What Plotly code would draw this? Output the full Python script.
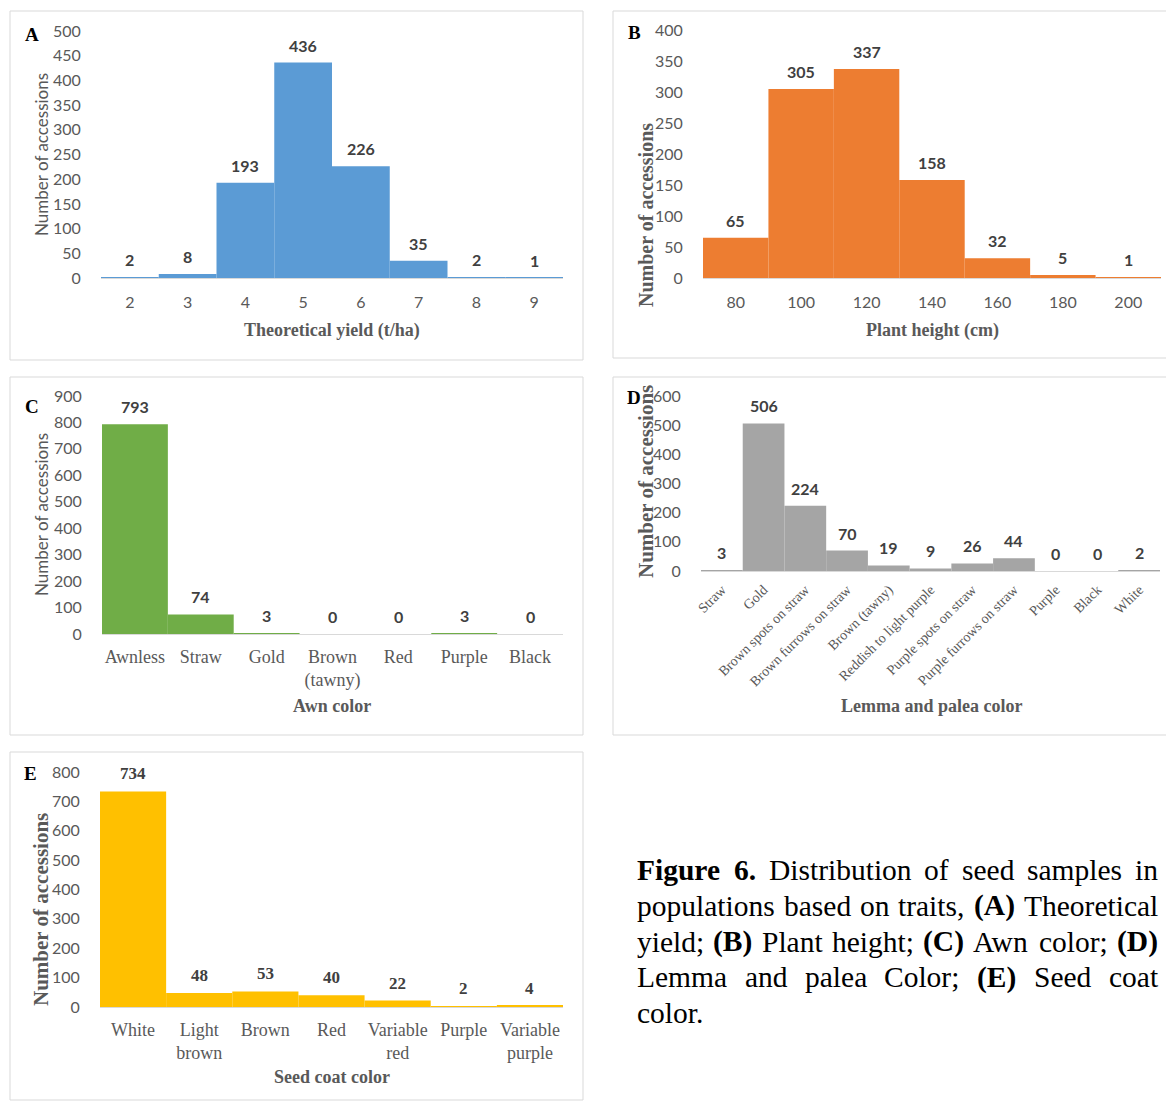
import plotly.graph_objects as go

W, H = 1166, 1102

# ---- data -------------------------------------------------------------
yield_bins = ["2", "3", "4", "5", "6", "7", "8", "9"]
yield_counts = [2, 8, 193, 436, 226, 35, 2, 1]

height_bins = ["80", "100", "120", "140", "160", "180", "200"]
height_counts = [65, 305, 337, 158, 32, 5, 1]

awn_colors = ["Awnless", "Straw", "Gold", "Brown (tawny)", "Red", "Purple", "Black"]
awn_ticks = ["Awnless", "Straw", "Gold", "Brown<br>(tawny)", "Red", "Purple", "Black"]
awn_counts = [793, 74, 3, 0, 0, 3, 0]

lemma_colors = ["Straw", "Gold", "Brown spots on straw", "Brown furrows on straw",
                "Brown (tawny)", "Reddish to light purple", "Purple spots on straw",
                "Purple furrows on straw", "Purple", "Black", "White"]
lemma_counts = [3, 506, 224, 70, 19, 9, 26, 44, 0, 0, 2]

seed_colors = ["White", "Light brown", "Brown", "Red", "Variable red", "Purple", "Variable purple"]
seed_ticks = ["White", "Light<br>brown", "Brown", "Red", "Variable<br>red", "Purple", "Variable<br>purple"]
seed_counts = [734, 48, 53, 40, 22, 2, 4]

# ---- styling ----------------------------------------------------------
SANS = "Lato, Open Sans, sans-serif"
SERIF = "Liberation Serif, Times New Roman, serif"
GRAY = "#595959"
LABEL = "#404040"


def fx(px):
    return px / W


def fy(py):
    return 1 - py / H


def clamp(v):
    return min(1.0, max(0.0, v))


panels = [
    dict(letter="A", cats=yield_bins, ticks=yield_bins, vals=yield_counts, color="#5B9BD5",
         xpx=(101, 563), ypx=(278, 31), ymax=500, dtick=50, tickfont=dict(family=SANS, size=16, color=GRAY),
         tickangle=0, standoff=10, labelfont=dict(family=SANS, size=16, color=LABEL),
         box=(10, 11, 583, 360), letterpos=(32, 34),
         xtitle="Theoretical yield (t/ha)", xtitlepos=(332, 330),
         ytitle="Number of accessions", ytitlepos=(41, 155), ytitlefont=dict(family=SANS, size=17, color=GRAY)),
    dict(letter="B", cats=height_bins, ticks=height_bins, vals=height_counts, color="#ED7D31",
         xpx=(703, 1161), ypx=(278, 30), ymax=400, dtick=50, tickfont=dict(family=SANS, size=16, color=GRAY),
         tickangle=0, standoff=10, labelfont=dict(family=SANS, size=16, color=LABEL),
         box=(613, 11, 1175, 358), letterpos=(634, 33),
         xtitle="Plant height (cm)", xtitlepos=(932, 330),
         ytitle="Number of accessions", ytitlepos=(646, 215), ytitlefont=dict(family=SERIF, size=20, color=GRAY)),
    dict(letter="C", cats=awn_colors, ticks=awn_ticks, vals=awn_counts, color="#70AD47",
         xpx=(102, 563), ypx=(634, 396), ymax=900, dtick=100, tickfont=dict(family=SERIF, size=18, color=GRAY),
         tickangle=0, standoff=6, labelfont=dict(family=SANS, size=16, color=LABEL),
         box=(10, 377, 583, 735), letterpos=(32, 406),
         xtitle="Awn color", xtitlepos=(332, 706),
         ytitle="Number of accessions", ytitlepos=(41, 515), ytitlefont=dict(family=SANS, size=17, color=GRAY)),
    dict(letter="D", cats=lemma_colors, ticks=lemma_colors, vals=lemma_counts, color="#A5A5A5",
         xpx=(701, 1160), ypx=(571, 396), ymax=600, dtick=100, tickfont=dict(family=SERIF, size=14, color=GRAY),
         tickangle=-45, standoff=4, labelfont=dict(family=SANS, size=16, color=LABEL),
         box=(613, 377, 1175, 735), letterpos=(634, 397),
         xtitle="Lemma and palea color", xtitlepos=(932, 706),
         ytitle="Number of accessions", ytitlepos=(646, 482), ytitlefont=dict(family=SERIF, size=21, color=GRAY)),
    dict(letter="E", cats=seed_colors, ticks=seed_ticks, vals=seed_counts, color="#FFC000",
         xpx=(100, 563), ypx=(1007, 772), ymax=800, dtick=100, tickfont=dict(family=SERIF, size=18, color=GRAY),
         tickangle=0, standoff=6, labelfont=dict(family=SERIF, size=17, color=LABEL),
         box=(10, 752, 583, 1100), letterpos=(30, 773),
         xtitle="Seed coat color", xtitlepos=(332, 1077),
         ytitle="Number of accessions", ytitlepos=(41, 910), ytitlefont=dict(family=SERIF, size=21, color=GRAY)),
]

fig = go.Figure()
annotations = []
shapes = []
layout_axes = {}


def paper_text(x, y, text, font, **kw):
    d = dict(x=fx(x), y=fy(y), xref="paper", yref="paper", text=text, showarrow=False,
             xanchor="center", yanchor="middle", font=font, borderpad=0)
    d.update(kw)
    return d


for i, p in enumerate(panels, start=1):
    xa, ya = f"x{i}", f"y{i}"
    fig.add_trace(go.Bar(
        x=p["cats"], y=p["vals"], xaxis=xa, yaxis=ya, width=1,
        marker=dict(color=p["color"], line=dict(width=0)),
        hoverinfo="skip", showlegend=False,
    ))
    layout_axes[f"xaxis{i}"] = dict(
        domain=[clamp(fx(p["xpx"][0])), clamp(fx(p["xpx"][1]))], anchor=ya, type="category",
        tickmode="array", tickvals=p["cats"], ticktext=p["ticks"], tickangle=p["tickangle"],
        showgrid=False, zeroline=False, showline=True, linecolor="#D9D9D9", linewidth=1,
        ticks="outside", ticklen=0, tickfont=p["tickfont"], ticklabelstandoff=p["standoff"],
        range=[-0.5, len(p["cats"]) - 0.5], fixedrange=True, automargin=False,
    )
    layout_axes[f"yaxis{i}"] = dict(
        domain=[clamp(fy(p["ypx"][0])), clamp(fy(p["ypx"][1]))], anchor=xa, range=[0, p["ymax"]],
        dtick=p["dtick"], showgrid=False, zeroline=False, showline=False,
        ticks="outside", ticklen=0, ticklabelstandoff=16,
        tickfont=dict(family=SANS, size=16, color=GRAY), fixedrange=True, automargin=False,
    )
    # value labels above every bar (category index positions)
    for k, v in enumerate(p["vals"]):
        annotations.append(dict(
            x=k, y=v, xref=xa, yref=ya, text=f"<b>{v}</b>", showarrow=False,
            xanchor="center", yanchor="bottom", yshift=6, font=p["labelfont"],
        ))
    # panel frame
    x0, y0, x1, y1 = p["box"]
    shapes.append(dict(type="rect", xref="paper", yref="paper",
                       x0=fx(x0), x1=fx(x1), y0=fy(y1), y1=fy(y0),
                       line=dict(color="#D9D9D9", width=1), fillcolor="rgba(0,0,0,0)"))
    # panel letter
    annotations.append(paper_text(*p["letterpos"], f"<b>{p['letter']}</b>",
                                  dict(family=SERIF, size=19, color="black")))
    # axis titles
    annotations.append(paper_text(*p["xtitlepos"], f"<b>{p['xtitle']}</b>",
                                  dict(family=SERIF, size=18, color=GRAY)))
    ytext = p["ytitle"] if p["ytitlefont"]["family"] == SANS else f"<b>{p['ytitle']}</b>"
    annotations.append(paper_text(*p["ytitlepos"], ytext, p["ytitlefont"], textangle=-90))

# ---- figure caption (justified block of Times text) -------------------
TIMES_R = {" ": 250, "(": 333, ")": 333, ",": 250, ".": 250, ";": 278,
           "A": 722, "B": 667, "C": 667, "D": 722, "E": 611, "F": 556, "L": 611, "P": 556,
           "S": 556, "T": 611,
           "a": 444, "b": 500, "c": 444, "d": 500, "e": 444, "f": 333, "g": 500, "h": 500,
           "i": 278, "j": 278, "k": 500, "l": 278, "m": 778, "n": 500, "o": 500, "p": 500,
           "q": 500, "r": 333, "s": 389, "t": 278, "u": 500, "v": 500, "w": 722, "x": 500,
           "y": 500, "z": 444}
TIMES_B = {" ": 250, "(": 333, ")": 333, ",": 250, ".": 250, ";": 333, "6": 500,
           "A": 722, "B": 667, "C": 722, "D": 722, "E": 667, "F": 611,
           "e": 444, "g": 500, "i": 278, "r": 444, "u": 556}

caption_lines = [
    [("Figure", True), ("6.", True), ("Distribution", False), ("of", False), ("seed", False),
     ("samples", False), ("in", False)],
    [("populations", False), ("based", False), ("on", False), ("traits,", False), ("(A)", True),
     ("Theoretical", False)],
    [("yield;", False), ("(B)", True), ("Plant", False), ("height;", False), ("(C)", True),
     ("Awn", False), ("color;", False), ("(D)", True)],
    [("Lemma", False), ("and", False), ("palea", False), ("Color;", False), ("(E)", True),
     ("Seed", False), ("coat", False)],
    [("color.", False)],
]
CAP_SIZE = 29.5
CAP_LEFT, CAP_RIGHT = 636, 1157
CAP_TOP, CAP_STEP = 870, 35.8


def word_width(word, bold):
    table = TIMES_B if bold else TIMES_R
    return sum(table.get(ch, TIMES_R.get(ch, 500)) for ch in word) * CAP_SIZE / 1000


for li, words in enumerate(caption_lines):
    widths = [word_width(w, b) for w, b in words]
    last = li == len(caption_lines) - 1
    if last or len(words) == 1:
        gap = 250 * CAP_SIZE / 1000
    else:
        gap = (CAP_RIGHT - CAP_LEFT - sum(widths)) / (len(words) - 1)
    xpos = CAP_LEFT
    ypos = CAP_TOP + li * CAP_STEP
    for (w, b), wd in zip(words, widths):
        annotations.append(paper_text(
            xpos, ypos, f"<b>{w}</b>" if b else w,
            dict(family=SERIF, size=CAP_SIZE, color="black"), xanchor="left",
        ))
        xpos += wd + gap

fig.update_layout(
    width=W, height=H, margin=dict(l=0, r=0, t=0, b=0),
    paper_bgcolor="white", plot_bgcolor="white",
    annotations=annotations, shapes=shapes, **layout_axes,
)

fig.write_html("out.html", config={"displayModeBar": False})
